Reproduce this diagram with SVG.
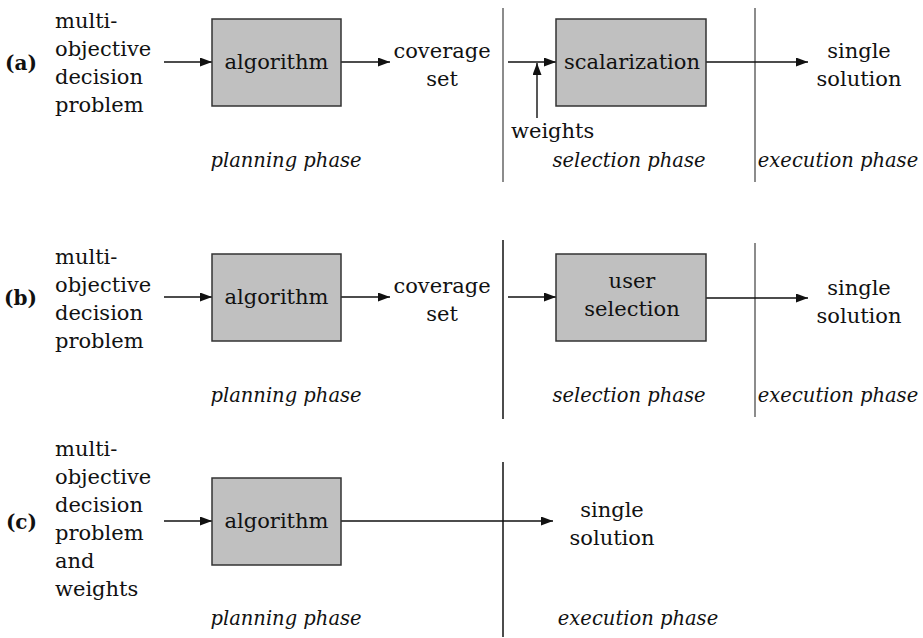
<svg xmlns="http://www.w3.org/2000/svg" width="923" height="638" viewBox="0 0 923 638">
<style>
.t{font-family:'DejaVu Serif','Liberation Serif',serif;font-size:21px;fill:#111}
.c{font-family:'DejaVu Serif','Liberation Serif',serif;font-size:21px;text-anchor:middle;fill:#111}
.ph{font-family:'DejaVu Serif','Liberation Serif',serif;font-size:19.5px;font-style:italic;text-anchor:middle;fill:#111}
.lb{font-family:'DejaVu Serif','Liberation Serif',serif;font-size:20px;font-weight:bold;text-anchor:end;fill:#111}
.box{fill:#c0c0c0;stroke:#333;stroke-width:1.5}
.ed{fill:none;stroke:#111;stroke-width:1.4}
.dv{stroke:#111;stroke-width:1.5}
.dg{stroke:#666;stroke-width:1.5}
</style>
<defs>
<marker id="ah" markerUnits="userSpaceOnUse" markerWidth="13" markerHeight="10" refX="12" refY="4.5" orient="auto">
<path d="M0,0 L12,4.5 L0,9 z" fill="#111"/>
</marker>
</defs>
<g id="dividers">
<line class="dg" x1="503" y1="8" x2="503" y2="182"/>
<line class="dg" x1="755" y1="8" x2="755" y2="182"/>
<line class="dv" x1="503" y1="240" x2="503" y2="419"/>
<line class="dg" x1="755" y1="243" x2="755" y2="417"/>
<line class="dv" x1="503" y1="462" x2="503" y2="637"/>
</g>
<g id="connectors">
<path class="ed" d="M164,62 H212" marker-end="url(#ah)"/>
<path class="ed" d="M341,62 H390" marker-end="url(#ah)"/>
<path class="ed" d="M508,62 H556" marker-end="url(#ah)"/>
<path class="ed" d="M537,118 V63" marker-end="url(#ah)"/>
<path class="ed" d="M706,62 H808" marker-end="url(#ah)"/>
<path class="ed" d="M164,297 H212" marker-end="url(#ah)"/>
<path class="ed" d="M341,297 H390" marker-end="url(#ah)"/>
<path class="ed" d="M508,297 H556" marker-end="url(#ah)"/>
<path class="ed" d="M706,298 H808" marker-end="url(#ah)"/>
<path class="ed" d="M164,521 H212" marker-end="url(#ah)"/>
<path class="ed" d="M341,521 H553" marker-end="url(#ah)"/>
</g>
<g id="panel-a">
<text class="lb" x="37" y="70">(a)</text>
<g id="a-input"><text class="t" x="55" y="28">multi-</text><text class="t" x="55" y="56">objective</text><text class="t" x="55" y="84">decision</text><text class="t" x="55" y="112">problem</text></g>
<g id="a-algorithm"><rect class="box" x="212" y="19" width="129" height="87"/><text class="c" x="276.5" y="69">algorithm</text></g>
<g id="a-coverage"><text class="c" x="442" y="58">coverage</text><text class="c" x="442" y="86">set</text></g>
<g id="a-scalarization"><rect class="box" x="556" y="19" width="150" height="87"/><text class="c" x="632" y="69">scalarization</text></g>
<g id="a-weights"><text class="t" x="511" y="138">weights</text></g>
<g id="a-solution"><text class="c" x="859" y="58">single</text><text class="c" x="859" y="86">solution</text></g>
<text class="ph" x="286" y="167">planning phase</text>
<text class="ph" x="629" y="167">selection phase</text>
<text class="ph" x="838" y="167">execution phase</text>
</g>
<g id="panel-b">
<text class="lb" x="37" y="305">(b)</text>
<g id="b-input"><text class="t" x="55" y="264">multi-</text><text class="t" x="55" y="292">objective</text><text class="t" x="55" y="320">decision</text><text class="t" x="55" y="348">problem</text></g>
<g id="b-algorithm"><rect class="box" x="212" y="254" width="129" height="87"/><text class="c" x="276.5" y="304">algorithm</text></g>
<g id="b-coverage"><text class="c" x="442" y="293">coverage</text><text class="c" x="442" y="321">set</text></g>
<g id="b-user"><rect class="box" x="556" y="254" width="150" height="87"/><text class="c" x="632" y="288">user</text><text class="c" x="632" y="316">selection</text></g>
<g id="b-solution"><text class="c" x="859" y="295">single</text><text class="c" x="859" y="323">solution</text></g>
<text class="ph" x="286" y="402">planning phase</text>
<text class="ph" x="629" y="402">selection phase</text>
<text class="ph" x="838" y="402">execution phase</text>
</g>
<g id="panel-c">
<text class="lb" x="37" y="529">(c)</text>
<g id="c-input"><text class="t" x="55" y="456">multi-</text><text class="t" x="55" y="484">objective</text><text class="t" x="55" y="512">decision</text><text class="t" x="55" y="540">problem</text><text class="t" x="55" y="568">and</text><text class="t" x="55" y="596">weights</text></g>
<g id="c-algorithm"><rect class="box" x="212" y="478" width="129" height="87"/><text class="c" x="276.5" y="528">algorithm</text></g>
<g id="c-solution"><text class="c" x="612" y="517">single</text><text class="c" x="612" y="545">solution</text></g>
<text class="ph" x="286" y="625">planning phase</text>
<text class="ph" x="638" y="625">execution phase</text>
</g>
</svg>
